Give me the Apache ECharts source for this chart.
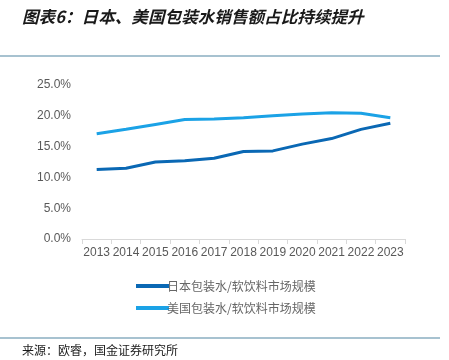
<!DOCTYPE html>
<html>
<head>
<meta charset="utf-8">
<script src="https://cdn.jsdelivr.net/npm/echarts@6/dist/echarts.min.js"></script>
<style>html,body{margin:0;padding:0;background:#fff;}#c{width:449px;height:360px;}</style>
</head>
<body>
<div id="c"></div>
<script>
const years = ['2013','2014','2015','2016','2017','2018','2019','2020','2021','2022','2023'];
const japan = [11.3, 11.5, 12.5, 12.7, 13.1, 14.2, 14.3, 15.4, 16.3, 17.8, 18.8];
const usa = [17.1, 17.8, 18.6, 19.4, 19.5, 19.7, 20.0, 20.3, 20.5, 20.4, 19.7];
const seriesNames = ['日本包装水/软饮料市场规模', '美国包装水/软饮料市场规模'];
const titleText = '图表6：日本、美国包装水销售额占比持续提升';
const sourceText = '来源：欧睿，国金证券研究所';

const chart = echarts.init(document.getElementById('c'));
chart.setOption({
  animation: false,
  grid: {left: 82, right: 44, top: 85, bottom: 121},
  xAxis: {
    type: 'category', data: years, boundaryGap: true,
    axisLine: {lineStyle: {color: '#d9d9d9', width: 1}},
    axisTick: {show: true, lineStyle: {color: '#d9d9d9'}},
    axisLabel: {color: '#595959', fontSize: 12, fontFamily: 'Liberation Sans, Arial', margin: 8, interval: 0}
  },
  yAxis: {
    type: 'value', min: 0, max: 25, interval: 5,
    axisLine: {show: false}, axisTick: {show: false}, splitLine: {show: false},
    axisLabel: {color: '#595959', fontSize: 12, fontFamily: 'Liberation Sans, Arial', margin: 11,
      formatter: v => v.toFixed(1) + '%'}
  },
  legend: {
    orient: 'vertical', left: 131, top: 275, itemWidth: 33, itemHeight: 4, itemGap: 10,
    icon: 'rect',
    textStyle: {color: '#666666', fontSize: 12, fontFamily: 'Noto Sans CJK SC', padding: [0,0,0,-7]},
    data: seriesNames
  },
  series: [
    {name: seriesNames[0], type: 'line', data: japan, symbol: 'none', lineStyle: {width: 3, color: '#0a68b4'}, itemStyle: {color: '#0a68b4'}},
    {name: seriesNames[1], type: 'line', data: usa, symbol: 'none', lineStyle: {width: 3, color: '#1ba2e6'}, itemStyle: {color: '#1ba2e6'}}
  ],
  graphic: [
    {type: 'text', left: 22, top: 8, style: {text: titleText, fill: '#1a1a1a', font: 'italic bold 16.6px "Noto Sans CJK SC"'}},
    {type: 'line', shape: {x1: 0, y1: 56, x2: 440, y2: 56}, style: {stroke: '#8aaec0', lineWidth: 1.5}},
    {type: 'line', shape: {x1: 0, y1: 338, x2: 440, y2: 338}, style: {stroke: '#8aaec0', lineWidth: 1.5}},
    {type: 'text', left: 22, top: 344, style: {text: sourceText, fill: '#1a1a1a', font: '12px "Noto Sans CJK SC"'}}
  ]
});
</script>
</body>
</html>
